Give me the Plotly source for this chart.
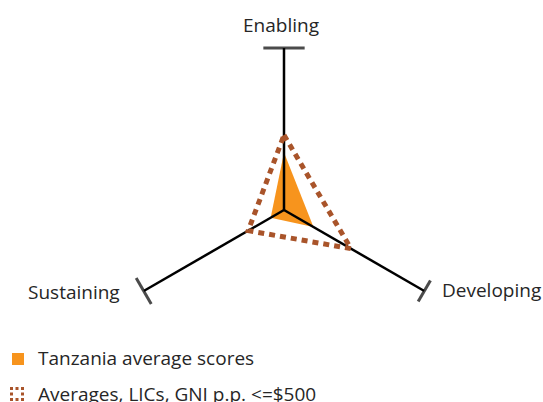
import plotly.graph_objects as go

categories = ["Enabling", "Developing", "Sustaining"]
tanzania = [1.42, 0.84, 0.38]
averages = [1.85, 1.91, 1.02]
legend_labels = ["Tanzania average scores", "Averages, LICs, GNI p.p. <=$500"]
r_max = 4

ORANGE = "#F7941D"
BROWN = "#A9542A"
TEXT = "#262626"
FONT = "Open Sans"
FS = 19

n = len(categories)
theta = [i * 360 / n for i in range(n)]

fig = go.Figure()

# Tanzania filled polygon
fig.add_trace(go.Scatterpolar(
    r=tanzania + tanzania[:1], theta=theta + theta[:1],
    mode="lines", fill="toself", fillcolor=ORANGE,
    line=dict(width=0, color=ORANGE), showlegend=False, hoverinfo="skip"))

# spokes
sr, st = [], []
for t in theta:
    sr += [0, r_max, None]
    st += [t, t, None]
fig.add_trace(go.Scatterpolar(r=sr, theta=st, mode="lines",
                              line=dict(color="black", width=2.5),
                              showlegend=False, hoverinfo="skip", cliponaxis=False))

# end caps (perpendicular bars at the spoke tips)
fig.add_trace(go.Scatterpolar(r=[r_max] * n, theta=theta, mode="markers",
                              marker=dict(symbol="line-ew", size=[29.5, 17.5, 21.5], angle=theta,
                                          color="black",
                                          line=dict(color="black", width=3)),
                              showlegend=False, hoverinfo="skip", cliponaxis=False))

# averages dotted polygon
fig.add_trace(go.Scatterpolar(
    r=averages + averages[:1], theta=theta + theta[:1],
    mode="lines", line=dict(color=BROWN, width=5, dash="6px,5px"),
    showlegend=False, hoverinfo="skip", cliponaxis=False))

W, H = 543, 402
def px(x): return x / W
def py(y): return 1 - y / H

R_px = 162
cx, cy = 284, 210

label_pos = [(281, 25, "center"), (440, 290, "left"), (122, 292, "right")]
annotations = []
for name, (x, y, anc) in zip(categories, label_pos):
    annotations.append(dict(text=name, xref="paper", yref="paper", x=px(x), y=py(y),
                            xanchor=anc, yanchor="middle", showarrow=False,
                            font=dict(family=FONT, size=FS, color=TEXT)))
for label, y in zip(legend_labels, [357.5, 393.5]):
    annotations.append(dict(text=label, xref="paper", yref="paper", x=px(36), y=py(y),
                            xanchor="left", yanchor="middle", showarrow=False,
                            font=dict(family=FONT, size=FS, color=TEXT)))

shapes = [dict(type="rect", xref="paper", yref="paper",
               x0=px(12), x1=px(24), y0=py(365), y1=py(353),
               fillcolor=ORANGE, line=dict(width=0))]
# dotted-square legend icon
for dx in (11.5, 17, 22.5):
    for dy in (388.5, 394, 399.5):
        if dx == 17 and dy == 394:
            continue
        shapes.append(dict(type="rect", xref="paper", yref="paper",
                           x0=px(dx - 1.5), x1=px(dx + 1.5),
                           y0=py(dy + 1.5), y1=py(dy - 1.5),
                           fillcolor=BROWN, line=dict(width=0)))

fig.update_layout(
    width=W, height=H,
    margin=dict(l=0, r=0, t=0, b=0),
    paper_bgcolor="white",
    font=dict(family=FONT, size=FS, color=TEXT),
    polar=dict(
        domain=dict(x=[px(cx - R_px), px(cx + R_px)], y=[py(cy + R_px), py(cy - R_px)]),
        bgcolor="white",
        radialaxis=dict(range=[0, r_max], visible=False, showgrid=False),
        angularaxis=dict(direction="clockwise", rotation=90, thetaunit="degrees",
                         tickmode="array", tickvals=theta, ticktext=categories,
                         showgrid=False, showline=False, ticks="", showticklabels=False),
    ),
    shapes=shapes,
    annotations=annotations,
)

fig.write_html("out.html", post_script="document.body.style.margin='0';",
               config={"displayModeBar": False})
